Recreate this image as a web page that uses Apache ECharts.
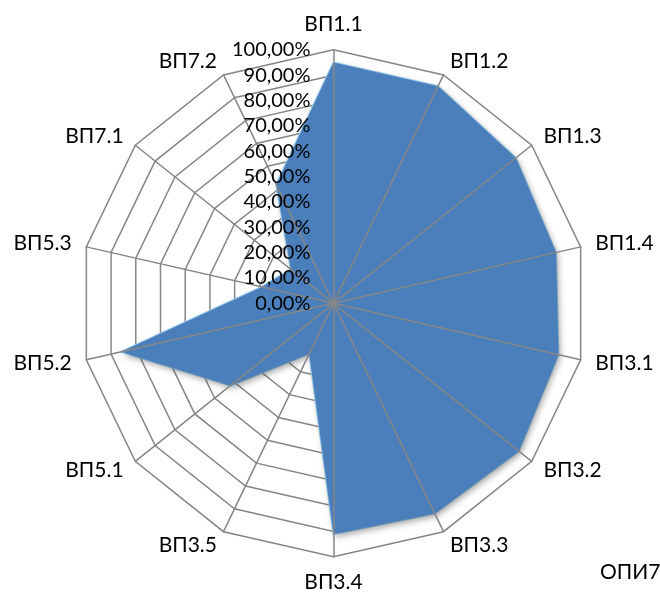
<!DOCTYPE html>
<html>
<head>
<meta charset="utf-8">
<script src="https://cdn.jsdelivr.net/npm/echarts@6/dist/echarts.min.js"></script>
<style>
  html, body { margin: 0; padding: 0; background: #fff; }
  #chart { width: 660px; height: 597px; }
</style>
</head>
<body>
<div id="chart"></div>
<script>
// categories in clockwise order, starting at the top
const categories = ['ВП1.1', 'ВП1.2', 'ВП1.3', 'ВП1.4', 'ВП3.1', 'ВП3.2', 'ВП3.3',
  'ВП3.4', 'ВП3.5', 'ВП5.1', 'ВП5.2', 'ВП5.3', 'ВП7.1', 'ВП7.2'];
const values = [0.95, 0.95, 0.92, 0.90, 0.91, 0.935, 0.92,
  0.91, 0.22, 0.52, 0.86, 0.29, 0.215, 0.52];
const seriesName = 'ОПИ7';
const tickMax = 1;
const tickInterval = 0.1;

// echarts places indicators counter-clockwise, so flip the order
const order = categories.map((c, i) => i === 0 ? 0 : categories.length - i);
const indicators = order.map(i => ({ name: categories[i], max: tickMax, min: 0 }));
const radarValues = order.map(i => values[i]);

const center = [333.5, 303.3];
const radius = 253.5;
const fmt = v => (v * 100).toFixed(2).replace('.', ',') + '%';

const chart = echarts.init(document.getElementById('chart'), null, { renderer: 'canvas' });

chart.setOption({
  backgroundColor: '#fff',
  animation: false,
  legend: {
    left: 590,
    top: 557,
    data: [{ name: seriesName, icon: 'none' }],
    itemWidth: 0,
    itemGap: 0,
    textStyle: { fontFamily: 'Lato', fontSize: 21, color: '#000' }
  },
  radar: [
    {
      // grid rings + category names, below the series
      center: center,
      radius: radius,
      startAngle: 90,
      splitNumber: 10,
      shape: 'polygon',
      indicator: indicators,
      axisName: { color: '#000', fontFamily: 'Lato', fontSize: 21 },
      nameGap: 15,
      axisLine: { show: false },
      splitLine: { lineStyle: { color: '#868686', width: 1.5 } },
      splitArea: { show: false },
      axisLabel: { show: false }
    },
    {
      // spokes and tick labels, drawn on top of the fill
      z: 5,
      center: center,
      radius: radius,
      startAngle: 90,
      splitNumber: 10,
      shape: 'polygon',
      indicator: indicators.map((d, i) => i === 0 ? {
        name: '', max: d.max, min: 0,
        axisLabel: {
          show: true,
          formatter: fmt,
          color: '#000',
          fontFamily: 'Lato',
          fontSize: 20,
          margin: 23,
          padding: [5, 0, 0, 0]
        }
      } : { name: '', max: d.max, min: 0 }),
      axisName: { show: false },
      axisLine: { show: true, lineStyle: { color: '#868686', width: 1.5 } },
      splitLine: { show: false },
      splitArea: { show: false },
      axisLabel: { show: false }
    }
  ],
  series: [{
    type: 'radar',
    radarIndex: 0,
    name: seriesName,
    symbol: 'none',
    lineStyle: { color: '#9fd3f7', width: 2 },
    areaStyle: {
      color: '#4a7fbb',
      opacity: 1,
      shadowColor: 'rgba(0,0,0,0.35)',
      shadowBlur: 6,
      shadowOffsetX: 2,
      shadowOffsetY: 3
    },
    data: [{ value: radarValues, name: seriesName }]
  }]
});
</script>
</body>
</html>
